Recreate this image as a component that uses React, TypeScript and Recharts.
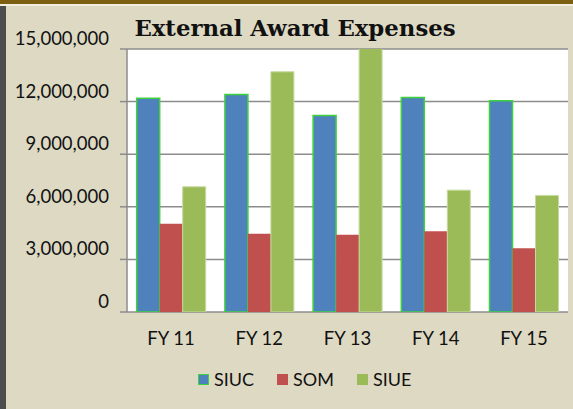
import { Bar, BarChart, CartesianGrid, XAxis, YAxis } from "recharts";

const categories = ["FY 11", "FY 12", "FY 13", "FY 14", "FY 15"];
const siuc = [12190000, 12410000, 11210000, 12240000, 12050000];
const som = [5030000, 4460000, 4400000, 4610000, 3640000];
const siue = [7140000, 13700000, 15200000, 6950000, 6650000];
const yTicks = [0, 3000000, 6000000, 9000000, 12000000, 15000000];
const edgeTicks = [0, 1, 2, 3, 4, 5];

const data = categories.map((label, i) => ({
  label,
  SIUC: siuc[i],
  SOM: som[i],
  SIUE: siue[i],
}));

const BLUE = "#4f81bd";
const RED = "#c0504d";
const GREEN = "#9bbb59";
const EDGE_GREEN = "#3ed23e";
const BG = "#ddd9c3";
const FONT = "Lato, 'Open Sans', sans-serif";

function YTick({ x, y, payload }: { x?: number; y?: number; payload?: { value: number } }) {
  return (
    <text x={x} y={(y ?? 0) - 4} textAnchor="end" fontSize={18.5} fontFamily={FONT} fill="#111">
      {Number(payload?.value).toLocaleString("en-US")}
    </text>
  );
}

function XTick({ x, y, payload }: { x?: number; y?: number; payload?: { value: string } }) {
  return (
    <text x={x} y={(y ?? 0) + 33} textAnchor="middle" fontSize={18.5} fontFamily={FONT} fill="#111">
      {payload?.value}
    </text>
  );
}

const legendItems = [
  { name: "SIUC", color: BLUE, border: EDGE_GREEN },
  { name: "SOM", color: RED, border: RED },
  { name: "SIUE", color: GREEN, border: GREEN },
];

export default function App() {
  return (
    <div
      style={{
        position: "absolute",
        left: 0,
        top: 0,
        width: 573,
        height: 409,
        background: BG,
        overflow: "hidden",
      }}
    >
      <div style={{ position: "absolute", left: 0, top: 0, width: 573, height: 4, background: "#7d5f12" }} />
      <div style={{ position: "absolute", left: 0, top: 4, width: 573, height: 2, background: "#f2efdf" }} />
      <div style={{ position: "absolute", left: 0, top: 6, width: 6, height: 403, background: "#4d4d4d" }} />
      <div
        style={{
          position: "absolute",
          left: 0,
          width: 590,
          top: 14,
          lineHeight: "28px",
          textAlign: "center",
          fontFamily: "'DejaVu Serif', serif",
          fontWeight: "bold",
          fontSize: 22.8,
          color: "#111",
        }}
      >
        External Award Expenses
      </div>
      <div style={{ position: "absolute", left: 0, top: 0 }}>
        <BarChart
          width={573}
          height={409}
          data={data}
          margin={{ top: 49, right: 5, bottom: 57, left: 0 }}
          barCategoryGap="11%"
          barGap={0}
        >
          <CartesianGrid horizontal vertical={false} fill="#ffffff" stroke="#8c8c8c" strokeWidth={1.5} />
          <XAxis
            xAxisId="edges"
            type="number"
            domain={[0, 5]}
            ticks={edgeTicks}
            allowDataOverflow
            tick={false}
            height={0}
            tickSize={6}
            stroke="#8c8c8c"
            strokeWidth={1.5}
          />
          <XAxis
            dataKey="label"
            tick={<XTick />}
            tickLine={false}
            axisLine={false}
            tickSize={0}
            tickMargin={0}
            height={40}
          />
          <YAxis
            domain={[0, 15000000]}
            ticks={yTicks}
            allowDataOverflow
            width={127}
            tick={<YTick />}
            tickSize={7}
            tickMargin={11}
            stroke="#8c8c8c"
            strokeWidth={1.5}
          />
          <Bar dataKey="SIUC" fill={BLUE} stroke={EDGE_GREEN} strokeWidth={1.5} isAnimationActive={false} />
          <Bar dataKey="SOM" fill={RED} isAnimationActive={false} />
          <Bar dataKey="SIUE" fill={GREEN} stroke="#c6da9f" strokeWidth={1} isAnimationActive={false} />
        </BarChart>
      </div>
      <div
        style={{
          position: "absolute",
          left: 198,
          top: 368,
          display: "flex",
          alignItems: "center",
          fontFamily: FONT,
          fontSize: 18,
          color: "#111",
        }}
      >
        {legendItems.map((item) => (
          <div key={item.name} style={{ display: "flex", alignItems: "center", marginRight: 23 }}>
            <span
              style={{
                display: "inline-block",
                width: 9,
                height: 9,
                background: item.color,
                border: `1.5px solid ${item.border}`,
                marginRight: 5,
              }}
            />
            <span>{item.name}</span>
          </div>
        ))}
      </div>
    </div>
  );
}
